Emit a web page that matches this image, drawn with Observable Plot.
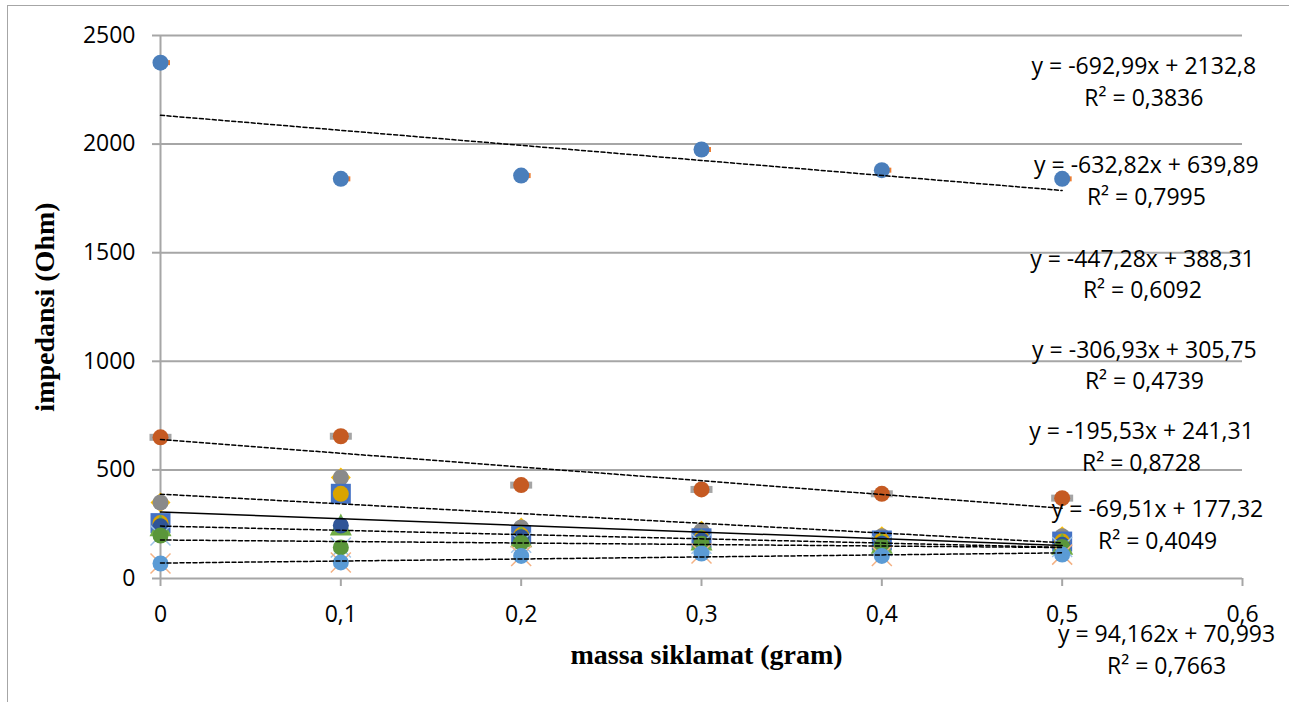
<!DOCTYPE html>
<html><head><meta charset="utf-8">
<script src="https://cdn.jsdelivr.net/npm/d3@7"></script>
<script src="https://cdn.jsdelivr.net/npm/@observablehq/plot@0.6"></script>
<style>
html,body{margin:0;padding:0;background:#fff;overflow:hidden}
#wrap{position:relative;width:1289px;height:702px}
#frame{position:absolute;left:7px;top:5px;width:1400px;height:800px;border-left:1.5px solid #a6a6a6;border-top:1.5px solid #a6a6a6}
#chart{position:absolute;left:0;top:0}
</style></head><body>
<div id="wrap"><div id="frame"></div><div id="chart"></div></div>
<script>
// ---- data ----
const massa = [0, 0.1, 0.2, 0.3, 0.4, 0.5];
const serA = [2375, 1840, 1855, 1975, 1880, 1840];
const serB = [650, 655, 430, 410, 390, 370];
const serC = [350, 465, 235, 220, 195, 195];
const serD = [255, 390, 200, 185, 175, 170];
const serE = [240, 244, 190, 175, 160, 155];
const serF = [198, 143, 165, 160, 150, 145];
const serG = [69, 74, 104, 115, 104, 110];

const slopes = [-692.99, -632.82, -447.28, -306.93, -195.53, -69.51, 94.162];
const intercepts = [2132.8, 639.89, 388.31, 305.75, 241.31, 177.32, 70.993];
const eqLabels = ["y = -692,99x + 2132,8", "y = -632,82x + 639,89", "y = -447,28x + 388,31",
  "y = -306,93x + 305,75", "y = -195,53x + 241,31", "y = -69,51x + 177,32", "y = 94,162x + 70,993"];
const r2Labels = ["R² = 0,3836", "R² = 0,7995", "R² = 0,6092", "R² = 0,4739", "R² = 0,8728", "R² = 0,4049", "R² = 0,7663"];
// label anchors (data units) for trendline equation boxes
const labelX = [0.5453, 0.5467, 0.5445, 0.5456, 0.5440, 0.5529, 0.5579];
const labelY = [2295, 1839, 1409, 990, 617, 255, -320];

const xTicks = [0, 0.1, 0.2, 0.3, 0.4, 0.5, 0.6];
const yTicks = [0, 500, 1000, 1500, 2000, 2500];

// ---- helpers ----
const rows = (vals) => massa.map((x, i) => ({x, y: vals[i]}));
const sym = (fn) => ({draw: fn});
const barSym = sym((c) => { c.rect(-11, -3.5, 22, 7); });
const diamondSym = sym((c) => { c.moveTo(0, -10); c.lineTo(10, 0); c.lineTo(0, 10); c.lineTo(-10, 0); c.closePath(); });
const squareSym = sym((c) => { c.rect(-10, -10, 20, 20); });
const smallSq = sym((c) => { c.rect(-2.5, -2.5, 5, 5); });
const triSym = sym((c) => { c.moveTo(0, -12); c.lineTo(11, 10); c.lineTo(-11, 10); c.closePath(); });
const crossSym = sym((c) => { c.moveTo(-10, -10); c.lineTo(10, 10); c.moveTo(10, -10); c.lineTo(-10, 10); });

const trend = slopes.map((m, i) => [{x: 0, y: intercepts[i], k: i}, {x: 0.5, y: intercepts[i] + 0.5 * m, k: i}]);
const dashed = trend.filter((_, i) => i !== 3).flat();
const solid = trend[3];
const labels = eqLabels.map((t, i) => ({x: labelX[i], y: labelY[i], text: t + "\n" + r2Labels[i]}));

const fmt = (d) => String(d).replace(".", ",");
const GRAY = "#a6a6a6";
const FONT = "Open Sans";

const chart = Plot.plot({
  width: 1289, height: 702,
  marginLeft: 160, marginRight: 47, marginTop: 35, marginBottom: 124,
  x: {domain: [0, 0.6]},
  y: {domain: [0, 2500]},
  style: {fontFamily: FONT, background: "transparent", overflow: "visible"},
  marks: [
    Plot.gridY({ticks: yTicks.slice(1), stroke: GRAY, strokeOpacity: 1, strokeWidth: 2}),
    Plot.ruleY([0], {stroke: GRAY, strokeWidth: 2}),
    Plot.ruleX([0], {stroke: GRAY, strokeWidth: 2}),
    Plot.axisX({ticks: xTicks, tickFormat: fmt, tickSize: 8, tickPadding: 19, fontSize: 23, fontFamily: FONT, stroke: GRAY, strokeWidth: 2, fill: "black", label: null}),
    Plot.axisY({ticks: yTicks, tickFormat: fmt, tickSize: 8, tickPadding: 17, fontSize: 23, fontFamily: FONT, stroke: GRAY, strokeWidth: 2, fill: "black", label: null}),
    // series A
    Plot.dot(rows(serA), {x: "x", y: "y", symbol: smallSq, fill: "#ed7d31", stroke: "none", dx: 7}),
    Plot.dot(rows(serA), {x: "x", y: "y", r: 8, fill: "#4a7ebb", stroke: "none"}),
    // series B
    Plot.dot(rows(serB), {x: "x", y: "y", symbol: barSym, fill: "#a5a5a5", stroke: "none"}),
    Plot.dot(rows(serB), {x: "x", y: "y", r: 8, fill: "#c55a22", stroke: "none"}),
    // series C
    Plot.dot(rows(serC), {x: "x", y: "y", symbol: diamondSym, fill: "#ffc000", stroke: "none"}),
    Plot.dot(rows(serC), {x: "x", y: "y", r: 8, fill: "#8a8a8a", stroke: "none"}),
    // series D
    Plot.dot(rows(serD), {x: "x", y: "y", symbol: squareSym, fill: "#4472c4", stroke: "none"}),
    Plot.dot(rows(serD), {x: "x", y: "y", r: 8, fill: "#d9a400", stroke: "none"}),
    // series E
    Plot.dot(rows(serE), {x: "x", y: "y", symbol: triSym, fill: "#70ad47", stroke: "none"}),
    Plot.dot(rows(serE), {x: "x", y: "y", r: 8, fill: "#2f5597", stroke: "none"}),
    // series F
    Plot.dot(rows(serF), {x: "x", y: "y", symbol: crossSym, fill: "none", stroke: "#9dc3e6", strokeWidth: 1.5}),
    Plot.dot(rows(serF), {x: "x", y: "y", r: 8, fill: "#5a963a", stroke: "none"}),
    // series G
    Plot.dot(rows(serG), {x: "x", y: "y", symbol: crossSym, fill: "none", stroke: "#f4b183", strokeWidth: 1.5}),
    Plot.dot(rows(serG), {x: "x", y: "y", r: 8, fill: "#5b9bd5", stroke: "none"}),
    // trendlines
    Plot.line(dashed, {x: "x", y: "y", z: "k", stroke: "black", strokeWidth: 1.5, strokeDasharray: "4,2.5"}),
    Plot.line(solid, {x: "x", y: "y", stroke: "black", strokeWidth: 1.5}),
    // equation labels
    Plot.text(labels, {x: "x", y: "y", text: "text", fontSize: 23, fontFamily: FONT, lineHeight: 1.38, fill: "black", textAnchor: "middle", clip: false}),
    // axis titles
    Plot.text(["massa siklamat (gram)"], {frameAnchor: "bottom", dy: 77, dx: 5, textAnchor: "middle", lineAnchor: "middle", fontSize: 28, fontWeight: "bold", fontFamily: "Liberation Serif", fill: "black"}),
    Plot.text(["impedansi (Ohm)"], {frameAnchor: "left", dx: -115, rotate: -90, textAnchor: "middle", lineAnchor: "middle", fontSize: 28, fontWeight: "bold", fontFamily: "Liberation Serif", fill: "black"})
  ]
});
document.getElementById("chart").appendChild(chart);
</script>
</body></html>
